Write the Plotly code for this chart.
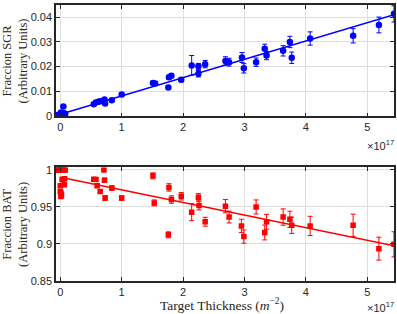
import plotly.graph_objects as go

# ---------------- data (x in units of 1e17 m^-2) ----------------
sgr_x = [-0.07, -0.04, -0.02, 0.0, 0.01, 0.02, 0.03, 0.05, 0.06, 0.08,
         0.545, 0.58, 0.62, 0.65, 0.72, 0.73, 0.84, 1.0,
         1.51, 1.545, 1.76, 1.77, 1.81, 1.97, 2.14, 2.25, 2.25,
         2.36, 2.69, 2.75, 2.96, 2.99, 3.19, 3.33, 3.36, 3.63, 3.74, 3.77,
         4.07, 4.77, 5.19, 5.436]
sgr_y = [0.0, 0.0002, 0.0005, 0.0, 0.0013, 0.0007, -0.0004, 0.0037, 0.001, 0.0008,
         0.0046, 0.0053, 0.0056, 0.0058, 0.0066, 0.0049, 0.0062, 0.0086,
         0.0133, 0.0130, 0.0114, 0.0156, 0.0162, 0.0146, 0.0204, 0.0200, 0.0170,
         0.0209, 0.0222, 0.0217, 0.0236, 0.0192, 0.0217, 0.0271, 0.0244, 0.0263, 0.0299, 0.0235,
         0.0313, 0.0324, 0.0368, 0.0413]
sgr_err = [0.0003, 0.0003, 0.0003, 0.0003, 0.0003, 0.0003, 0.0003, 0.0006, 0.0003, 0.0003,
           0.0004, 0.0004, 0.0004, 0.0004, 0.0005, 0.0004, 0.0005, 0.0005,
           0.0007, 0.0007, 0.0007, 0.0008, 0.0008, 0.0009, 0.0040, 0.0012, 0.0013,
           0.0015, 0.0017, 0.0016, 0.0020, 0.0019, 0.0017, 0.0019, 0.0017, 0.0021, 0.0023, 0.0023,
           0.0027, 0.0029, 0.0032, 0.0033]

bat_x = [-0.07, -0.05, -0.03, -0.01, 0.0, 0.02, 0.04, 0.06, 0.08,
         0.0, 0.0, 0.01, 0.02, 0.01, 0.03, 0.065, 0.07,
         0.545, 0.58, 0.60, 0.65, 0.71, 0.72, 0.73, 0.84, 1.0,
         1.51, 1.53, 1.77, 1.76, 1.81, 1.97, 2.14, 2.25, 2.26,
         2.36, 2.69, 2.75, 2.95, 2.99, 3.19, 3.33, 3.36, 3.63, 3.74, 3.77,
         4.07, 4.77, 5.19, 5.436]
bat_y = [1.0, 1.0, 1.0, 1.0, 1.0, 1.0, 1.0, 1.0, 1.0,
         0.9787, 0.971, 0.969, 0.966, 0.964, 0.987, 0.980, 0.988,
         0.9875, 0.987, 0.9787, 0.971, 1.0, 0.986, 0.962, 0.9755, 0.962,
         0.992, 0.9555, 0.9764, 0.9124, 0.960, 0.9644, 0.943, 0.963, 0.952,
         0.930, 0.951, 0.9364, 0.9244, 0.910, 0.950, 0.9155, 0.930, 0.9364, 0.9333, 0.9253,
         0.9244, 0.9253, 0.8937, 0.8995]
bat_err = [0.001, 0.001, 0.001, 0.001, 0.001, 0.001, 0.001, 0.001, 0.001,
           0.002, 0.002, 0.002, 0.002, 0.002, 0.002, 0.002, 0.002,
           0.002, 0.002, 0.002, 0.002, 0.002, 0.003, 0.003, 0.003, 0.003,
           0.004, 0.004, 0.005, 0.004, 0.005, 0.005, 0.0115, 0.005, 0.006,
           0.006, 0.009, 0.008, 0.009, 0.009, 0.0095, 0.010, 0.010, 0.011, 0.011, 0.011,
           0.013, 0.015, 0.0155, 0.017]

# linear fits (intercept, slope per 1e17)
sgr_fit = (0.0006, 0.00743)
bat_fit = (0.990, -0.0170)
fit_x = [0.0, 5.436]

x_ticks = [0, 1, 2, 3, 4, 5]
sgr_ticks = [0, 0.01, 0.02, 0.03, 0.04]
sgr_ticklabels = ["0", "0.01", "0.02", "0.03", "0.04"]
bat_ticks = [0.85, 0.9, 0.95, 1.0]
bat_ticklabels = ["0.85", "0.9", "0.95", "1"]

BLUE = "rgb(0,0,255)"
RED = "rgb(255,0,0)"

fig = go.Figure()

fig.add_trace(go.Scatter(
    x=sgr_x, y=sgr_y, mode="markers", xaxis="x", yaxis="y",
    marker=dict(symbol="circle", size=6.5, color=BLUE),
    error_y=dict(type="data", array=sgr_err, visible=True, thickness=1, width=2.5, color=BLUE),
    showlegend=False))
fig.add_trace(go.Scatter(
    x=fit_x, y=[sgr_fit[0] + sgr_fit[1] * v for v in fit_x], mode="lines",
    xaxis="x", yaxis="y", line=dict(color=BLUE, width=1.5), showlegend=False))

fig.add_trace(go.Scatter(
    x=bat_x, y=bat_y, mode="markers", xaxis="x2", yaxis="y2",
    marker=dict(symbol="square", size=5.5, color=RED),
    error_y=dict(type="data", array=bat_err, visible=True, thickness=1, width=2.5, color=RED),
    showlegend=False))
fig.add_trace(go.Scatter(
    x=fit_x, y=[bat_fit[0] + bat_fit[1] * v for v in fit_x], mode="lines",
    xaxis="x2", yaxis="y2", line=dict(color=RED, width=1.5), showlegend=False))

tickfont = dict(family="Liberation Sans, Arial, sans-serif", size=11, color="#262626")
axis_common = dict(showline=True, linecolor="#262626", linewidth=1.5, mirror="ticks",
                   ticks="inside", ticklen=4, tickwidth=1, tickcolor="#262626",
                   showgrid=True, gridcolor="#dedede", gridwidth=1, zeroline=False,
                   tickfont=tickfont)

xr = [-0.07, 5.436]
fig.update_layout(
    width=397, height=314,
    margin=dict(l=56, r=3, t=1, b=33),
    paper_bgcolor="white", plot_bgcolor="white",
    xaxis=dict(domain=[0, 1], anchor="y", range=xr, tickvals=x_ticks, **axis_common),
    yaxis=dict(domain=[0.5964, 1.0], anchor="x", range=[-0.0003, 0.0449],
               tickvals=sgr_ticks, ticktext=sgr_ticklabels, **axis_common),
    xaxis2=dict(domain=[0, 1], anchor="y2", range=xr, tickvals=x_ticks, **axis_common),
    yaxis2=dict(domain=[0.0, 0.4118], anchor="x2", range=[0.85, 1.0035],
                tickvals=bat_ticks, ticktext=bat_ticklabels, **axis_common),
)

serif_y = dict(family="Liberation Serif, Times New Roman, serif", size=12.5, color="#262626")
serif_x = dict(family="Liberation Serif, Times New Roman, serif", size=13.5, color="#262626")
ann = [
    dict(text="Fraccion SGR<br>(Arbitrary Units)", x=-0.122, y=0.798, xref="paper", yref="paper",
         textangle=-90, showarrow=False, font=serif_y, xanchor="center", yanchor="middle"),
    dict(text="Fraccion BAT<br>(Arbitrary Units)", x=-0.122, y=0.206, xref="paper", yref="paper",
         textangle=-90, showarrow=False, font=serif_y, xanchor="center", yanchor="middle"),
    dict(text="Target Thickness (<i>m</i><sup>\u22122</sup>)", x=0.49, y=-0.086, xref="paper", yref="paper",
         showarrow=False, font=serif_x, xanchor="center", yanchor="middle"),
    dict(text="\u00d710<sup>17</sup>", x=1.005, y=0.493, xref="paper", yref="paper",
         showarrow=False, font=tickfont, xanchor="right", yanchor="middle"),
    dict(text="\u00d710<sup>17</sup>", x=1.005, y=-0.094, xref="paper", yref="paper",
         showarrow=False, font=tickfont, xanchor="right", yanchor="middle"),
]
fig.update_layout(annotations=ann)

fig.write_html("out.html", config={"displayModeBar": False},
               post_script="document.body.style.margin='0';document.body.style.overflow='hidden';")
